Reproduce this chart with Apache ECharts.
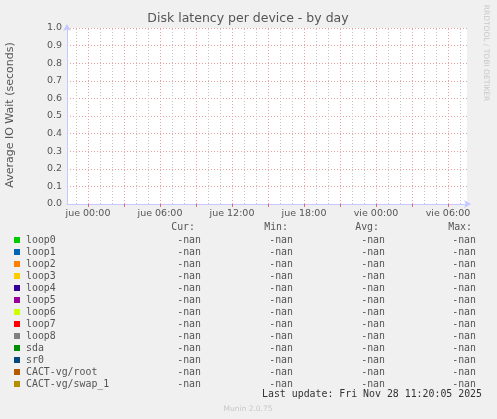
<!DOCTYPE html>
<html>
<head>
<meta charset="utf-8">
<script src="https://cdn.jsdelivr.net/npm/echarts@6/dist/echarts.min.js"></script>
<style>
html,body{margin:0;padding:0;background:#f0f0f0;}
#c{width:497px;height:419px;}
</style>
</head>
<body>
<div id="c"></div>
<script>
// ---- data ----
var devices = ['loop0','loop1','loop2','loop3','loop4','loop5','loop6','loop7','loop8','sda','sr0','CACT-vg/root','CACT-vg/swap_1'];
var deviceColors = ['#00cc00','#0066b3','#ff8000','#ffcc00','#330099','#990099','#ccff00','#ff0000','#808080','#008f00','#00487d','#b35a00','#b38f00'];
var curValues = ['-nan','-nan','-nan','-nan','-nan','-nan','-nan','-nan','-nan','-nan','-nan','-nan','-nan'];
var minValues = ['-nan','-nan','-nan','-nan','-nan','-nan','-nan','-nan','-nan','-nan','-nan','-nan','-nan'];
var avgValues = ['-nan','-nan','-nan','-nan','-nan','-nan','-nan','-nan','-nan','-nan','-nan','-nan','-nan'];
var maxValues = ['-nan','-nan','-nan','-nan','-nan','-nan','-nan','-nan','-nan','-nan','-nan','-nan','-nan'];
// x axis: hours relative to "jue 00:00"
var xLabelHours = [0, 6, 12, 18, 24, 30];
var xTickLabels = ['jue 00:00','jue 06:00','jue 12:00','jue 18:00','vie 00:00','vie 06:00'];
var majorGridHours = [0, 3, 6, 9, 12, 15, 18, 21, 24, 27, 30];
var minorGridHours = [-1, 1, 2, 4, 5, 7, 8, 10, 11, 13, 14, 16, 17, 19, 20, 22, 23, 25, 26, 28, 29, 31];
var xRange = [-1.75, 31.5833];
var yTicks = [0, 0.1, 0.2, 0.3, 0.4, 0.5, 0.6, 0.7, 0.8, 0.9, 1.0];
var title = 'Disk latency per device - by day';
var yName = 'Average IO Wait (seconds)';
var lastUpdate = 'Last update: Fri Nov 28 11:20:05 2025';
var footer = 'Munin 2.0.75';
var sideText = 'RRDTOOL / TOBI OETIKER';

// ---- chart ----
var chart = echarts.init(document.getElementById('c'), null, {renderer:'canvas'});
var sans = 'DejaVu Sans';
var mono = 'DejaVu Sans Mono';
var axisCol = '#c4c8ff';
var redGrid = '#e9a0a0';
var grayGrid = '#c4c4c4';

var series = devices.map(function(d, i){
  return {name:d, type:'line', data:[], color:deviceColors[i], showSymbol:false};
});
series.push({
  name:'grid', type:'line', data:[], silent:true,
  markLine:{silent:true, symbol:'none', label:{show:false}, animation:false,
    lineStyle:{type:[1,2], color:grayGrid, width:1},
    data: minorGridHours.map(function(h){return {xAxis:h};})}
});
series.push({
  name:'grid2', type:'line', data:[], silent:true,
  markLine:{silent:true, symbol:'none', label:{show:false}, animation:false,
    lineStyle:{type:[1,2], color:redGrid, width:1},
    data: majorGridHours.map(function(h){return {xAxis:h};})}
});

var graphics = [];
var rowY0 = 240, rowStep = 12;
var monoFont = '9.9px "' + mono + '"';
graphics.push({type:'text', style:{text:'Cur:', x:195, y:227, align:'right', verticalAlign:'middle', font:monoFont, fill:'#555'}});
graphics.push({type:'text', style:{text:'Min:', x:288, y:227, align:'right', verticalAlign:'middle', font:monoFont, fill:'#555'}});
graphics.push({type:'text', style:{text:'Avg:', x:379, y:227, align:'right', verticalAlign:'middle', font:monoFont, fill:'#555'}});
graphics.push({type:'text', style:{text:'Max:', x:472, y:227, align:'right', verticalAlign:'middle', font:monoFont, fill:'#555'}});
devices.forEach(function(d, i){
  var y = rowY0 + i*rowStep;
  graphics.push({type:'rect', shape:{x:14, y:y-3, width:6, height:6}, style:{fill:deviceColors[i]}});
  graphics.push({type:'text', style:{text:d, x:26, y:y, verticalAlign:'middle', font:monoFont, fill:'#555'}});
  graphics.push({type:'text', style:{text:curValues[i], x:201, y:y, align:'right', verticalAlign:'middle', font:monoFont, fill:'#555'}});
  graphics.push({type:'text', style:{text:minValues[i], x:293, y:y, align:'right', verticalAlign:'middle', font:monoFont, fill:'#555'}});
  graphics.push({type:'text', style:{text:avgValues[i], x:385, y:y, align:'right', verticalAlign:'middle', font:monoFont, fill:'#555'}});
  graphics.push({type:'text', style:{text:maxValues[i], x:476, y:y, align:'right', verticalAlign:'middle', font:monoFont, fill:'#555'}});
});
graphics.push({type:'text', style:{text:lastUpdate, x:482, y:394, align:'right', verticalAlign:'middle', font:monoFont, fill:'#333'}});
graphics.push({type:'text', style:{text:footer, x:248, y:409, align:'center', verticalAlign:'middle', font:'7.5px "'+sans+'"', fill:'#c8c8c8'}});
graphics.push({type:'text', x:486, y:53, rotation:-Math.PI/2, style:{text:sideText, x:0, y:0, align:'center', verticalAlign:'middle', font:'7.5px "'+sans+'"', fill:'#c8c8c8'}});
graphics.push({type:'text', style:{text:title, x:248, y:19, align:'center', verticalAlign:'middle', font:'12.5px "'+sans+'"', fill:'#555'}});
graphics.push({type:'text', x:10, y:115, rotation:Math.PI/2, style:{text:yName, x:0, y:0, align:'center', verticalAlign:'middle', font:'11px "'+sans+'"', fill:'#555'}});

var option = {
  backgroundColor:'#f0f0f0',
  animation:false,
  grid:{left:67, top:28, right:30, bottom:215, show:true, backgroundColor:'#ffffff', borderWidth:0, containLabel:false},
  xAxis:{
    type:'value', min:xRange[0], max:xRange[1],
    axisLine:{show:true, onZero:false, lineStyle:{color:axisCol, width:1}, symbol:['none','arrow'], symbolSize:[6,7], symbolOffset:[0,4]},
    axisTick:{show:true, customValues:majorGridHours, length:3, inside:false, lineStyle:{color:'#e07070'}},
    splitLine:{show:false},
    axisLabel:{customValues:xLabelHours, color:'#555', fontFamily:sans, fontSize:9.5, margin:5,
      formatter:function(v){ var k = xLabelHours.indexOf(Math.round(v)); return k>=0 ? xTickLabels[k] : ''; }}
  },
  yAxis:{
    type:'value', min:yTicks[0], max:yTicks[yTicks.length-1], interval:0.1,
    axisLine:{show:true, onZero:false, lineStyle:{color:axisCol, width:1}, symbol:['none','arrow'], symbolSize:[6,7], symbolOffset:[0,4]},
    axisTick:{show:false},
    splitLine:{show:true, lineStyle:{type:[1,2], color:redGrid, width:1}},
    axisLabel:{color:'#555', fontFamily:sans, fontSize:9.5, margin:5, formatter:function(v){return v.toFixed(1);}}
  },
  series:series,
  graphic:graphics
};
chart.setOption(option);
</script>
</body>
</html>
